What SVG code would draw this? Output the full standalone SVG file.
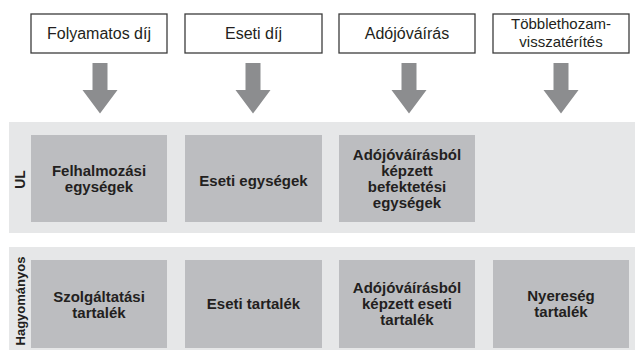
<svg xmlns="http://www.w3.org/2000/svg" width="635" height="350" viewBox="0 0 635 350">
<defs>
<style>
.src rect{fill:#ffffff;stroke:#3c3c3c;stroke-width:1.3}
.src text{font-family:"Liberation Sans",Arial,sans-serif;font-size:16px;fill:#231f20;text-anchor:middle}
.band{fill:#e6e7e8}
.box rect{fill:#bcbdc0}
.box text{font-family:"Liberation Sans",Arial,sans-serif;font-size:15px;font-weight:bold;fill:#231f20;text-anchor:middle}
.lbl{font-family:"Liberation Sans",Arial,sans-serif;font-weight:bold;fill:#231f20;text-anchor:middle}
.arr{fill:#8c8d8f}
</style>
<path id="arrow" d="M-7.5,63 H7.5 V90 H17.5 L0,113.5 L-17.5,90 H-7.5 Z"/>
</defs>
<rect width="635" height="350" fill="#ffffff"/>

<g id="src1" class="src"><rect x="31" y="14" width="136" height="39"/><text x="99" y="38.5">Folyamatos díj</text></g>
<g id="src2" class="src"><rect x="185" y="14" width="137" height="39"/><text x="253.5" y="38.5">Eseti díj</text></g>
<g id="src3" class="src"><rect x="339" y="14" width="136" height="39"/><text x="407" y="38.5">Adójóváírás</text></g>
<g id="src4" class="src"><rect x="493" y="14" width="136" height="39"/><text x="561" y="29" style="font-size:15px">Többlethozam-</text><text x="561" y="47" style="font-size:15px">visszatérítés</text></g>

<g id="connectors" class="arr">
<use href="#arrow" x="100"/>
<use href="#arrow" x="253"/>
<use href="#arrow" x="409"/>
<use href="#arrow" x="561"/>
</g>

<g id="band-ul">
<rect class="band" x="9" y="122" width="626" height="111"/>
<text class="lbl" font-size="14" transform="translate(25,179.5) rotate(-90)">UL</text>
</g>
<g id="band-hag">
<rect class="band" x="9" y="247" width="626" height="103"/>
<text class="lbl" font-size="13" transform="translate(25,301) rotate(-90)">Hagyományos</text>
</g>

<g id="ul1" class="box"><rect x="31" y="135" width="136" height="87"/><text x="99" y="176">Felhalmozási</text><text x="99" y="192">egységek</text></g>
<g id="ul2" class="box"><rect x="185" y="135" width="137" height="87"/><text x="253.5" y="186">Eseti egységek</text></g>
<g id="ul3" class="box"><rect x="339" y="135" width="136" height="87"/><text x="407" y="160">Adójóváírásból</text><text x="407" y="176">képzett</text><text x="407" y="192">befektetési</text><text x="407" y="207.5">egységek</text></g>

<g id="hag1" class="box"><rect x="31" y="260" width="136" height="88"/><text x="99" y="301.5">Szolgáltatási</text><text x="99" y="317.5">tartalék</text></g>
<g id="hag2" class="box"><rect x="185" y="260" width="137" height="88"/><text x="253.5" y="309">Eseti tartalék</text></g>
<g id="hag3" class="box"><rect x="339" y="260" width="136" height="88"/><text x="407" y="292.5">Adójóváírásból</text><text x="407" y="308.5">képzett eseti</text><text x="407" y="324.5">tartalék</text></g>
<g id="hag4" class="box"><rect x="493" y="260" width="136" height="88"/><text x="561" y="301">Nyereség</text><text x="561" y="317">tartalék</text></g>
</svg>
